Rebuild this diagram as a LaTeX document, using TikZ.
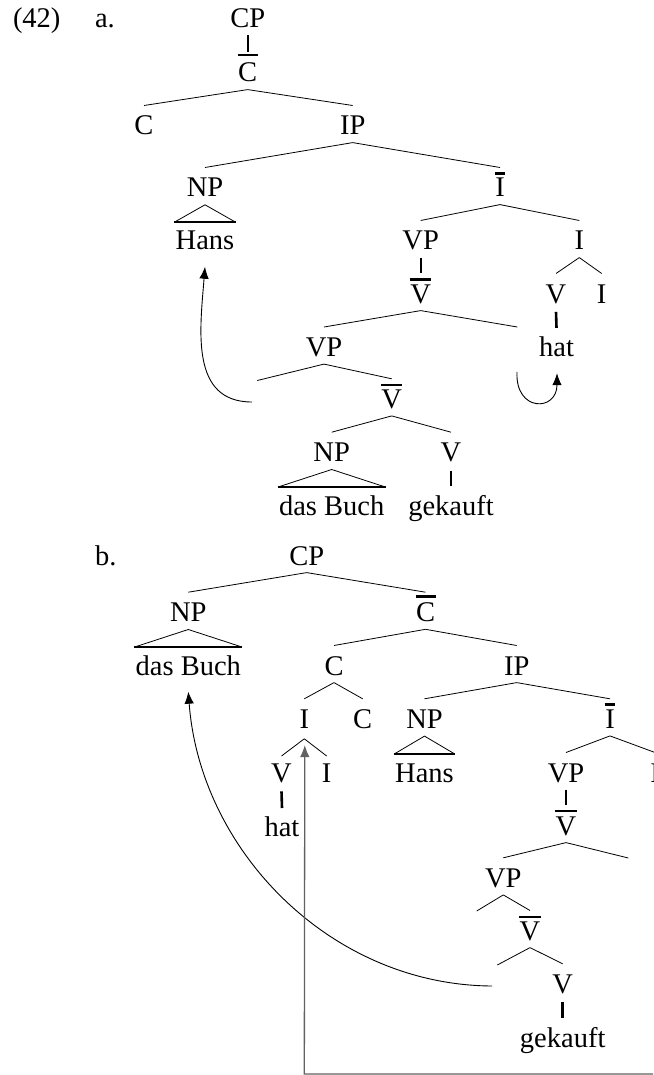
\documentclass[tikz,border=0pt]{standalone}
\usepackage{fontspec}
\setmainfont{Liberation Serif}
\usetikzlibrary{calc,arrows.meta}
% branch from parent #1 to child #2
\newcommand\tbr[2]{\draw[branch] ($(#1.base)+(0,7.6)$) -- ($(#2.base)+(0,-29.5)$);}
% unary line to a barred child
\newcommand\tunb[2]{\draw[unary] ($(#1.base)+(0,7.5)$) -- ($(#2.base)+(0,-30)$);}
% unary line to a word
\newcommand\tunw[2]{\draw[unaryw] ($(#1.base)+(0,8.8)$) -- ($(#2.base)+(0,-28.7)$);}
% overbar on node #1, #2 above baseline
\newcommand\tov[2]{\draw[barl] ($(#1.base west)+(-0.5,-#2)$) -- ($(#1.base east)+(0.5,-#2)$);}
% triangle from parent #1 over child #2
\newcommand\ttri[2]{%
  \draw[branch] ($(#2.base west)+(-1,-28)$) -- ($(#1.base)+(0,7.8)$) -- ($(#2.base east)+(1,-28)$);
  \draw[barl] ($(#2.base west)+(-1.5,-28)$) -- ($(#2.base east)+(1.5,-28)$);}
\begin{document}
\begin{tikzpicture}[x=1pt,y=-1pt,
  lbl/.style={anchor=base,inner sep=0pt,outer sep=0pt,font=\fontsize{28.5}{30}\selectfont},
  tag/.style={lbl,anchor=base west},
  branch/.style={line width=0.8pt},
  unary/.style={line width=1.6pt},
  unaryw/.style={line width=2.6pt},
  barl/.style={line width=2.6pt},
  mv/.style={line width=0.9pt,-{Latex[length=12pt,width=9.5pt]}},
  mvg/.style={line width=1.3pt,draw=black!62,-{Latex[length=12pt,width=9.5pt]}}]
\useasboundingbox (0,0) rectangle (653,1075);

% labels
\node[tag] (num) at (13,28) {(42)};
\node[tag] (la) at (95,28) {a.};
\node[tag] (lb) at (95,565) {b.};

% ---------- tree a ----------
\node[lbl] (A_cp) at (247.7,28) {CP};
\node[lbl] (A_cb) at (247.7,82) {C};
\node[lbl] (A_c) at (144,135) {C};
\node[lbl] (A_ip) at (352.7,135) {IP};
\node[lbl] (A_np) at (205,197) {NP};
\node[lbl] (A_ib) at (500,197) {I};
\node[lbl] (A_hans) at (205,250) {Hans};
\node[lbl] (A_vp) at (420.7,250) {VP};
\node[lbl] (A_i) at (579.3,250) {I};
\node[lbl] (A_vb) at (420.7,303) {V};
\node[lbl] (A_v) at (556,303) {V};
\node[lbl] (A_i2) at (601.7,303) {I};
\node[lbl] (A_vp2) at (324,356.5) {VP};
\node[lbl] (A_t1) at (517.3,356.5) {};
\node[lbl] (A_hat) at (556.5,356.5) {hat};
\node[lbl] (A_t2) at (257.3,410) {};
\node[lbl] (A_vb2) at (391.7,408.3) {V};
\node[lbl] (A_np2) at (331.7,461.7) {NP};
\node[lbl] (A_v2) at (451,461.7) {V};
\node[lbl] (A_db) at (331.7,515) {das Buch};
\node[lbl] (A_gek) at (451,515) {gekauft};

\tov{A_cb}{27}
\tov{A_ib}{23.5}
\tov{A_vb}{23.5}
\tov{A_vb2}{23.5}

\tunb{A_cp}{A_cb}
\tbr{A_cb}{A_c}
\tbr{A_cb}{A_ip}
\tbr{A_ip}{A_np}
\tbr{A_ip}{A_ib}
\ttri{A_np}{A_hans}
\tbr{A_ib}{A_vp}
\tbr{A_ib}{A_i}
\tunb{A_vp}{A_vb}
\tbr{A_i}{A_v}
\tbr{A_i}{A_i2}
\tunw{A_v}{A_hat}
\tbr{A_vb}{A_vp2}
\tbr{A_vb}{A_t1}
\tbr{A_vp2}{A_t2}
\tbr{A_vp2}{A_vb2}
\tbr{A_vb2}{A_np2}
\tbr{A_vb2}{A_v2}
\ttri{A_np2}{A_db}
\tunw{A_v2}{A_gek}

\coordinate (As1) at (252,402);
\coordinate (As2) at (517,372);
\draw[mv] (As1) .. controls (190,402) and (200,330) .. ($(A_hans.base)+(0,16.7)$);
\draw[mv] (As2) .. controls (515,412) and (557,412) .. ($(A_hat.base)+(0.5,16.7)$);

% ---------- tree b ----------
\node[lbl] (B_cp) at (306.7,565) {CP};
\node[lbl] (B_np) at (188.3,621.7) {NP};
\node[lbl] (B_cb) at (425.5,621.7) {C};
\node[lbl] (B_db) at (188.3,675) {das Buch};
\node[lbl] (B_c) at (334,675) {C};
\node[lbl] (B_ip) at (516.7,675) {IP};
\node[lbl] (B_i) at (304.3,728.3) {I};
\node[lbl] (B_c2) at (362.7,728.3) {C};
\node[lbl] (B_np2) at (424.5,728.3) {NP};
\node[lbl] (B_ib) at (610,728.3) {I};
\node[lbl] (B_v) at (281.5,782.5) {V};
\node[lbl] (B_i2) at (326.7,782.5) {I};
\node[lbl] (B_hans) at (424.5,782) {Hans};
\node[lbl] (B_vp) at (566,782) {VP};
\node[lbl] (B_i3) at (655,782) {I};
\node[lbl] (B_hat) at (282,836.7) {hat};
\node[lbl] (B_vb) at (566,835) {V};
\node[lbl] (B_vp2) at (503.3,887.3) {VP};
\node[lbl] (B_t1) at (628.3,887.5) {};
\node[lbl] (B_t2) at (476.7,940.5) {};
\node[lbl] (B_vb2) at (530,940) {V};
\node[lbl] (B_t3) at (497.3,994.5) {};
\node[lbl] (B_v2) at (562.7,993.3) {V};
\node[lbl] (B_gek) at (562.7,1047) {gekauft};

\tov{B_cb}{25}
\tov{B_ib}{24}
\tov{B_vb}{24}
\tov{B_vb2}{23}

\tbr{B_cp}{B_np}
\tbr{B_cp}{B_cb}
\ttri{B_np}{B_db}
\tbr{B_cb}{B_c}
\tbr{B_cb}{B_ip}
\tbr{B_c}{B_i}
\tbr{B_c}{B_c2}
\tbr{B_ip}{B_np2}
\tbr{B_ip}{B_ib}
\draw[branch] ($(B_i.base)+(0,10.5)$) -- ($(B_v.base)+(0,-26.5)$);
\draw[branch] ($(B_i.base)+(0,10.5)$) -- ($(B_i2.base)+(0,-26.5)$);
\ttri{B_np2}{B_hans}
\tbr{B_ib}{B_vp}
\tbr{B_ib}{B_i3}
\tunw{B_v}{B_hat}
\tunb{B_vp}{B_vb}
\tbr{B_vb}{B_vp2}
\tbr{B_vb}{B_t1}
\tbr{B_vp2}{B_t2}
\tbr{B_vp2}{B_vb2}
\tbr{B_vb2}{B_t3}
\tbr{B_vb2}{B_v2}
\tunw{B_v2}{B_gek}

\coordinate (Bs1) at (492,986);
\coordinate (Bs2) at (653,1074);
\draw[mv] (Bs1) .. controls (330,985) and (200,850) .. ($(B_db.base)+(0,16.7)$);
\draw[mvg] (Bs2) -- (Bs2 -| B_i.base) -- ($(B_i.base)+(0.5,16.7)$);
\end{tikzpicture}
\end{document}
